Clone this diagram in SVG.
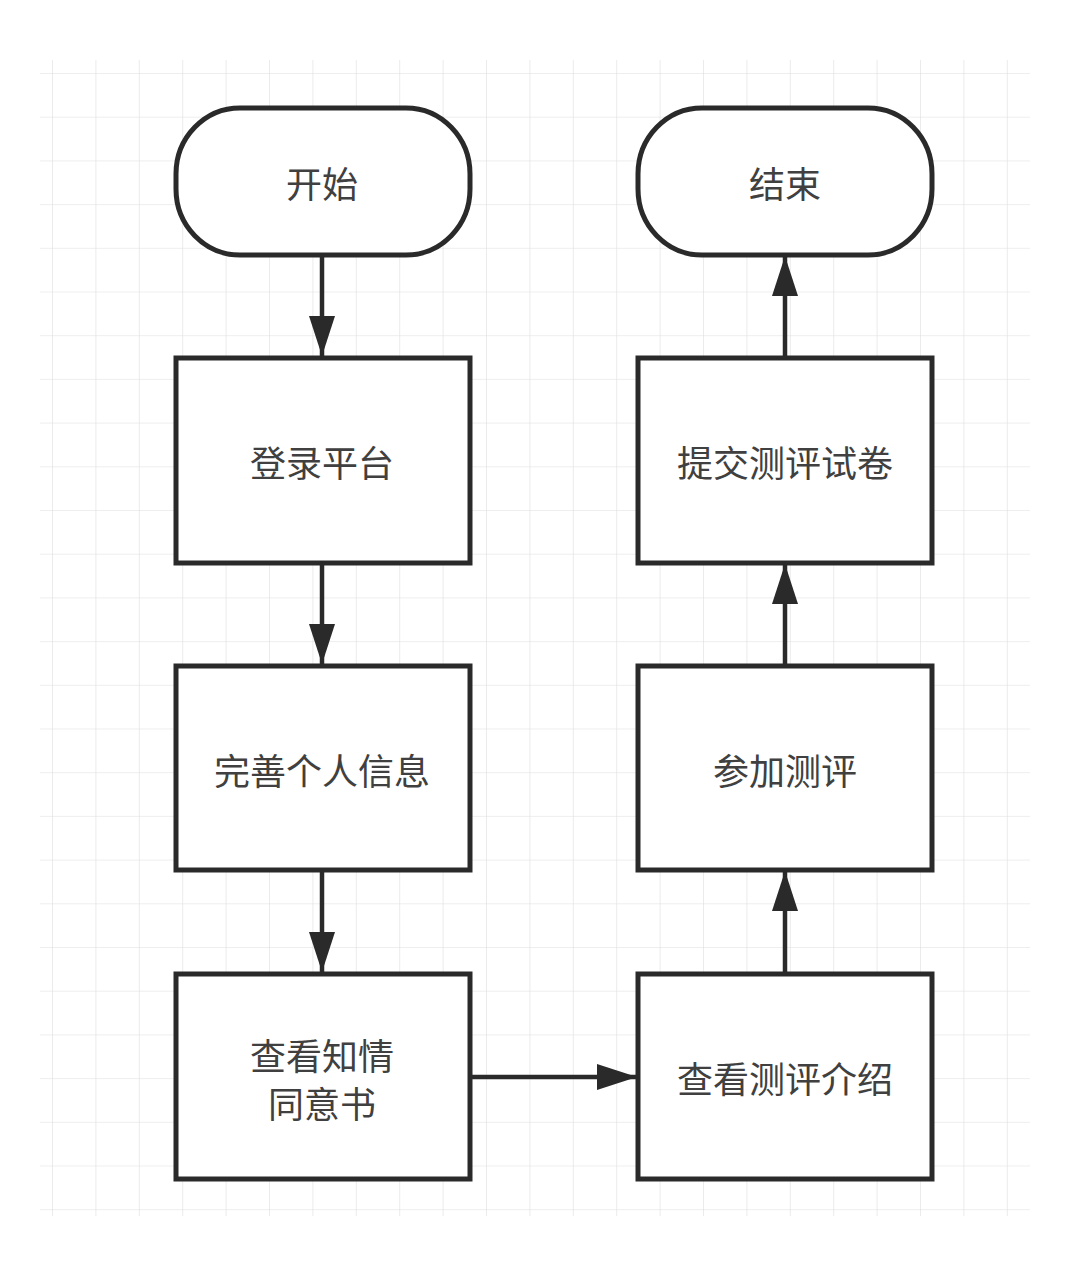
<svg xmlns="http://www.w3.org/2000/svg" width="1080" height="1261" viewBox="0 0 1080 1261">
<defs>
<pattern id="grid" x="52" y="73" width="43.4" height="43.7" patternUnits="userSpaceOnUse">
<path d="M0 0V43.7M0 0H43.4" fill="none" stroke="#dedede" stroke-width="1.2"/>
</pattern>
<marker id="arr" viewBox="0 0 40 26" refX="40" refY="13" markerWidth="40" markerHeight="26" markerUnits="userSpaceOnUse" orient="auto">
<path d="M0 0L40 13L0 26Z" fill="#2a2a2a"/>
</marker>
<style>
.box{fill:#fff;stroke:#2a2a2a;stroke-width:5}
.lbl{font-family:"Noto Sans CJK SC","Noto Sans",sans-serif;font-size:36px;fill:#404040;text-anchor:middle;dominant-baseline:central}
.edge{stroke:#2a2a2a;stroke-width:4.5;fill:none}
</style>
</defs>
<rect width="1080" height="1261" fill="#fff"/>
<rect x="40" y="60" width="990" height="1156" fill="url(#grid)"/>
<g id="connectors">
<line class="edge" x1="322" y1="255" x2="322" y2="356" marker-end="url(#arr)"/>
<line class="edge" x1="322" y1="563" x2="322" y2="664" marker-end="url(#arr)"/>
<line class="edge" x1="322" y1="870" x2="322" y2="972" marker-end="url(#arr)"/>
<line class="edge" x1="470" y1="1077" x2="637" y2="1077" marker-end="url(#arr)"/>
<line class="edge" x1="785" y1="973" x2="785" y2="871" marker-end="url(#arr)"/>
<line class="edge" x1="785" y1="665" x2="785" y2="564" marker-end="url(#arr)"/>
<line class="edge" x1="785" y1="357" x2="785" y2="256" marker-end="url(#arr)"/>
</g>
<g id="start">
<rect class="box" x="176" y="108" width="294" height="147" rx="64" ry="66"/>
<text class="lbl" x="322" y="182">开始</text>
</g>
<g id="end">
<rect class="box" x="638" y="108" width="294" height="147" rx="64" ry="66"/>
<text class="lbl" x="785" y="182">结束</text>
</g>
<g id="login">
<rect class="box" x="176" y="358" width="294" height="205"/>
<text class="lbl" x="322" y="461">登录平台</text>
</g>
<g id="profile">
<rect class="box" x="176" y="666" width="294" height="204"/>
<text class="lbl" x="322" y="769">完善个人信息</text>
</g>
<g id="consent">
<rect class="box" x="176" y="974" width="294" height="205"/>
<text class="lbl" x="322" y="1054">查看知情</text>
<text class="lbl" x="322" y="1102">同意书</text>
</g>
<g id="intro">
<rect class="box" x="638" y="974" width="294" height="205"/>
<text class="lbl" x="785" y="1077">查看测评介绍</text>
</g>
<g id="join">
<rect class="box" x="638" y="666" width="294" height="204"/>
<text class="lbl" x="785" y="769">参加测评</text>
</g>
<g id="submit">
<rect class="box" x="638" y="358" width="294" height="205"/>
<text class="lbl" x="785" y="461">提交测评试卷</text>
</g>
</svg>
